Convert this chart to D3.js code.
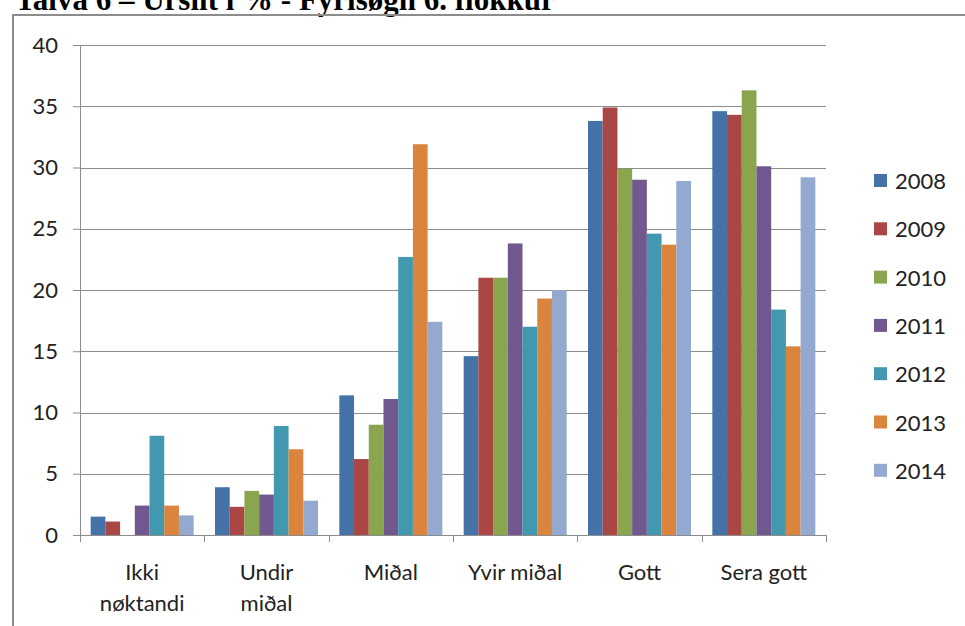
<!DOCTYPE html>
<html>
<head>
<meta charset="utf-8">
<script src="https://cdn.jsdelivr.net/npm/d3@7"></script>
<style>
  body { margin: 0; background: #fff; }
  svg { display: block; }
</style>
</head>
<body>
<svg width="965" height="626"></svg>
<script>
const width = 965
const height = 626

// data
const categories = [['Ikki', 'nøktandi'], ['Undir', 'miðal'], ['Miðal'], ['Yvir miðal'], ['Gott'], ['Sera gott']]
const years = ['2008', '2009', '2010', '2011', '2012', '2013', '2014']
const v2008 = [1.5, 3.9, 11.4, 14.6, 33.8, 34.6]
const v2009 = [1.1, 2.3, 6.2, 21.0, 34.9, 34.3]
const v2010 = [0, 3.6, 9.0, 21.0, 29.9, 36.3]
const v2011 = [2.4, 3.3, 11.1, 23.8, 29.0, 30.1]
const v2012 = [8.1, 8.9, 22.7, 17.0, 24.6, 18.4]
const v2013 = [2.4, 7.0, 31.9, 19.3, 23.7, 15.4]
const v2014 = [1.6, 2.8, 17.4, 20.0, 28.9, 29.2]
const yTicks = [0, 5, 10, 15, 20, 25, 30, 35, 40]
const colors = ['#4572a7', '#aa4643', '#89a54e', '#71588f', '#4198af', '#db843d', '#93a9cf']
const title = 'Talva 6 – Úrslit í % - Fyrisøgn 6. flokkur'

const series = [v2008, v2009, v2010, v2011, v2012, v2013, v2014]

const margin = { left: 80, top: 45, right: 139, bottom: 91 }

const svg = d3.select('svg')

// title, cut off at the top like the scan
svg.append('text')
    .attr('x', 15)
    .attr('y', 10)
    .attr('font-family', 'Liberation Serif')
    .attr('font-weight', 'bold')
    .attr('font-size', 31)
    .attr('fill', '#000')
    .text(title)

// chart frame
svg.append('path')
    .attr('d', `M13,${height} V15 H${width}`)
    .attr('fill', 'none')
    .attr('stroke', '#8c8c8c')
    .attr('stroke-width', 2)

const x0 = d3.scaleBand()
    .domain(d3.range(categories.length))
    .range([margin.left, width - margin.right])

const x1 = d3.scaleBand()
    .domain(years)
    .range([0, x0.bandwidth()])
    .paddingOuter(0.725)

const y = d3.scaleLinear()
    .domain([0, 40])
    .range([height - margin.bottom, margin.top])

const font = 'Lato, Carlito, sans-serif'
const fontSize = 22

// grid + y axis
const yAxis = svg.append('g')
    .attr('transform', `translate(${margin.left},0)`)
    .call(d3.axisLeft(y).tickValues(yTicks).tickSize(7).tickPadding(15))
yAxis.select('.domain').remove()
yAxis.selectAll('line').attr('stroke', '#8c8c8c')
yAxis.selectAll('text')
    .attr('font-family', font)
    .attr('font-size', fontSize)
    .attr('fill', '#222')

svg.append('g')
    .selectAll('line')
    .data(yTicks)
    .join('line')
    .attr('x1', margin.left)
    .attr('x2', width - margin.right)
    .attr('y1', d => Math.round(y(d)) + 0.5)
    .attr('y2', d => Math.round(y(d)) + 0.5)
    .attr('stroke', '#8c8c8c')

svg.append('line')
    .attr('x1', margin.left + 0.5)
    .attr('x2', margin.left + 0.5)
    .attr('y1', y(40))
    .attr('y2', y(0))
    .attr('stroke', '#8c8c8c')

// bars
const groups = svg.append('g')
    .selectAll('g')
    .data(series)
    .join('g')
    .attr('fill', (d, i) => colors[i])

groups.selectAll('rect')
    .data((d, i) => d.map((v, j) => ({ v: v, j: j, year: years[i] })))
    .join('rect')
    .attr('x', d => x0(d.j) + x1(d.year))
    .attr('y', d => y(d.v))
    .attr('width', x1.bandwidth())
    .attr('height', d => y(0) - y(d.v))

// x axis
const xAxis = svg.append('g')
    .attr('transform', `translate(0,${y(0)})`)
xAxis.append('line')
    .attr('x1', margin.left)
    .attr('x2', width - margin.right)
    .attr('y1', 0.5)
    .attr('y2', 0.5)
    .attr('stroke', '#8c8c8c')
xAxis.selectAll('.tick')
    .data(d3.range(categories.length + 1))
    .join('line')
    .attr('x1', d => Math.round(margin.left + d * x0.step()) + 0.5)
    .attr('x2', d => Math.round(margin.left + d * x0.step()) + 0.5)
    .attr('y1', 0)
    .attr('y2', 7)
    .attr('stroke', '#8c8c8c')

xAxis.selectAll('text')
    .data(categories)
    .join('text')
    .attr('text-anchor', 'middle')
    .attr('font-family', font)
    .attr('font-size', fontSize)
    .attr('fill', '#222')
    .attr('transform', (d, i) => `translate(${x0(i) + x0.bandwidth() / 2},0)`)
    .selectAll('tspan')
    .data(d => d)
    .join('tspan')
    .attr('x', 0)
    .attr('y', (d, i) => 45 + i * 31)
    .text(d => d)

// legend
const legend = svg.append('g')
    .selectAll('g')
    .data(years)
    .join('g')
    .attr('transform', (d, i) => `translate(874,${181 + i * 48.3})`)

legend.append('rect')
    .attr('x', 0)
    .attr('y', -7)
    .attr('width', 13)
    .attr('height', 13)
    .attr('fill', (d, i) => colors[i])

legend.append('text')
    .attr('x', 21)
    .attr('y', 8)
    .attr('font-family', font)
    .attr('font-size', fontSize)
    .attr('fill', '#222')
    .text(d => d)
</script>
</body>
</html>
